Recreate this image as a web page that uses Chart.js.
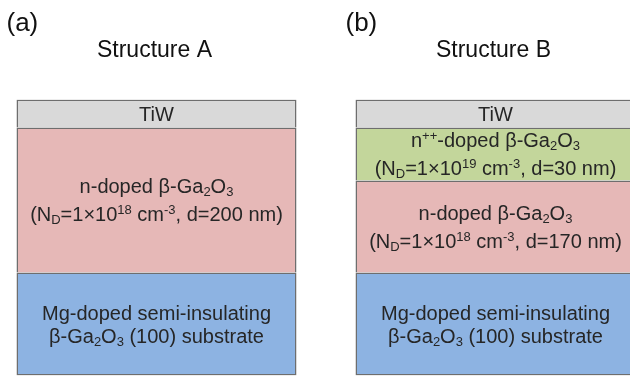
<!DOCTYPE html>
<html>
<head>
<meta charset="utf-8">
<script src="https://cdn.jsdelivr.net/npm/chart.js@4.4.1/dist/chart.umd.min.js"></script>
<style>
  html, body { margin: 0; padding: 0; background: #fff; overflow: hidden; width: 630px; height: 377px; position: relative; }
  #wrap { position: absolute; left: -13px; top: 0; width: 678px; height: 377px; }
</style>
</head>
<body>
<div id="wrap"><canvas id="c"></canvas></div>
<script>
// Two epitaxial stacks, drawn as stacked columns (schematic heights, not to scale)
const structures = ['Structure A', 'Structure B'];
const panelTags = ['(a)', '(b)'];

const substrateThickness = [103, 103];
const nDopedThickness = [145, 92];
const nppDopedThickness = [null, 53];
const tiwThickness = [28, 28];

// Layer captions; _{..} = subscript, ^{..} = superscript
const substrateLabels = [
  ['Mg-doped semi-insulating', 'β-Ga_{2}O_{3} (100) substrate'],
  ['Mg-doped semi-insulating', 'β-Ga_{2}O_{3} (100) substrate']
];
const nDopedLabels = [
  ['n-doped β-Ga_{2}O_{3}', '(N_{D}=1×10^{18} cm^{-3}, d=200 nm)'],
  ['n-doped β-Ga_{2}O_{3}', '(N_{D}=1×10^{18} cm^{-3}, d=170 nm)']
];
const nppDopedLabels = [
  null,
  ['n^{++}-doped β-Ga_{2}O_{3}', '(N_{D}=1×10^{19} cm^{-3}, d=30 nm)']
];
const tiwLabels = [['TiW'], ['TiW']];

const FAMILY = '"Liberation Sans", Arial, Helvetica, sans-serif';
const LAYER_FONT = 20;
const EDGE = '#6e6e6e';

function parseRich(s) {
  const out = [];
  const re = /([_^])\{([^}]*)\}/g;
  let last = 0, m;
  while ((m = re.exec(s))) {
    if (m.index > last) out.push({ t: s.slice(last, m.index), mode: 0 });
    out.push({ t: m[2], mode: m[1] === '^' ? 1 : -1 });
    last = re.lastIndex;
  }
  if (last < s.length) out.push({ t: s.slice(last), mode: 0 });
  return out;
}

function drawRich(ctx, s, cx, y, size) {
  const parts = parseRich(s);
  const small = Math.round(size * 0.65);
  let w = 0;
  parts.forEach(p => {
    ctx.font = (p.mode ? small : size) + 'px ' + FAMILY;
    p.w = ctx.measureText(p.t).width;
    w += p.w;
  });
  let x = cx - w / 2;
  ctx.textAlign = 'left';
  ctx.textBaseline = 'alphabetic';
  parts.forEach(p => {
    ctx.font = (p.mode ? small : size) + 'px ' + FAMILY;
    const dy = p.mode === 1 ? -size * 0.33 : (p.mode === -1 ? size * 0.17 : 0);
    ctx.fillText(p.t, x, y + dy);
    x += p.w;
  });
}

const layerText = {
  id: 'layerText',
  afterDatasetsDraw(chart) {
    const ctx = chart.ctx;
    ctx.save();
    ctx.fillStyle = '#262626';
    chart.data.datasets.forEach((ds, d) => {
      const meta = chart.getDatasetMeta(d);
      meta.data.forEach((bar, i) => {
        const lines = ds.layerLabels[i];
        if (!lines || ds.data[i] == null) return;
        const top = Math.min(bar.y, bar.base), bot = Math.max(bar.y, bar.base);
        const c = (top + bot) / 2;
        const gap = lines.some(l => l.includes('^{')) ? 28 : 23;
        const y0 = c - (lines.length - 1) * gap / 2 + 7;
        lines.forEach((l, k) => drawRich(ctx, l, bar.x, y0 + k * gap, LAYER_FONT));
      });
    });
    ctx.restore();
  },
  afterDraw(chart) {
    const ctx = chart.ctx;
    const xs = chart.scales.x;
    const meta = chart.getDatasetMeta(0);
    ctx.save();
    ctx.fillStyle = '#111';
    ctx.textBaseline = 'alphabetic';
    structures.forEach((name, i) => {
      ctx.textAlign = 'center';
      ctx.font = '23px ' + FAMILY;
      ctx.fillText(name, xs.getPixelForValue(i) - 2, 57);
      const bar = meta.data[i];
      ctx.textAlign = 'left';
      ctx.font = '26px ' + FAMILY;
      ctx.fillText(panelTags[i], bar.x - bar.width / 2 - 10, 31);
    });
    ctx.restore();
  }
};

const common = { borderColor: EDGE, borderWidth: 1.5 };

new Chart(document.getElementById('c'), {
  type: 'bar',
  data: {
    labels: structures,
    datasets: [
      { label: 'Mg-doped substrate', data: substrateThickness, backgroundColor: '#8db3e2', borderSkipped: false, layerLabels: substrateLabels, ...common },
      { label: 'n-doped β-Ga2O3', data: nDopedThickness, backgroundColor: '#e6b8b7', layerLabels: nDopedLabels, ...common },
      { label: 'n++-doped β-Ga2O3', data: nppDopedThickness, backgroundColor: '#c3d69b', layerLabels: nppDopedLabels, ...common },
      { label: 'TiW', data: tiwThickness, backgroundColor: '#d9d9d9', layerLabels: tiwLabels, ...common }
    ]
  },
  options: {
    responsive: true,
    maintainAspectRatio: false,
    animation: false,
    events: [],
    barPercentage: 280 / 339,
    categoryPercentage: 1,
    layout: { padding: { top: 99.5, bottom: 1.5, left: 0, right: 0 } },
    plugins: { legend: { display: false }, tooltip: { enabled: false } },
    scales: {
      x: { stacked: true, display: false, offset: true, grid: { display: false } },
      y: { stacked: true, display: false, min: 0, max: 276 }
    }
  },
  plugins: [layerText]
});
</script>
</body>
</html>
